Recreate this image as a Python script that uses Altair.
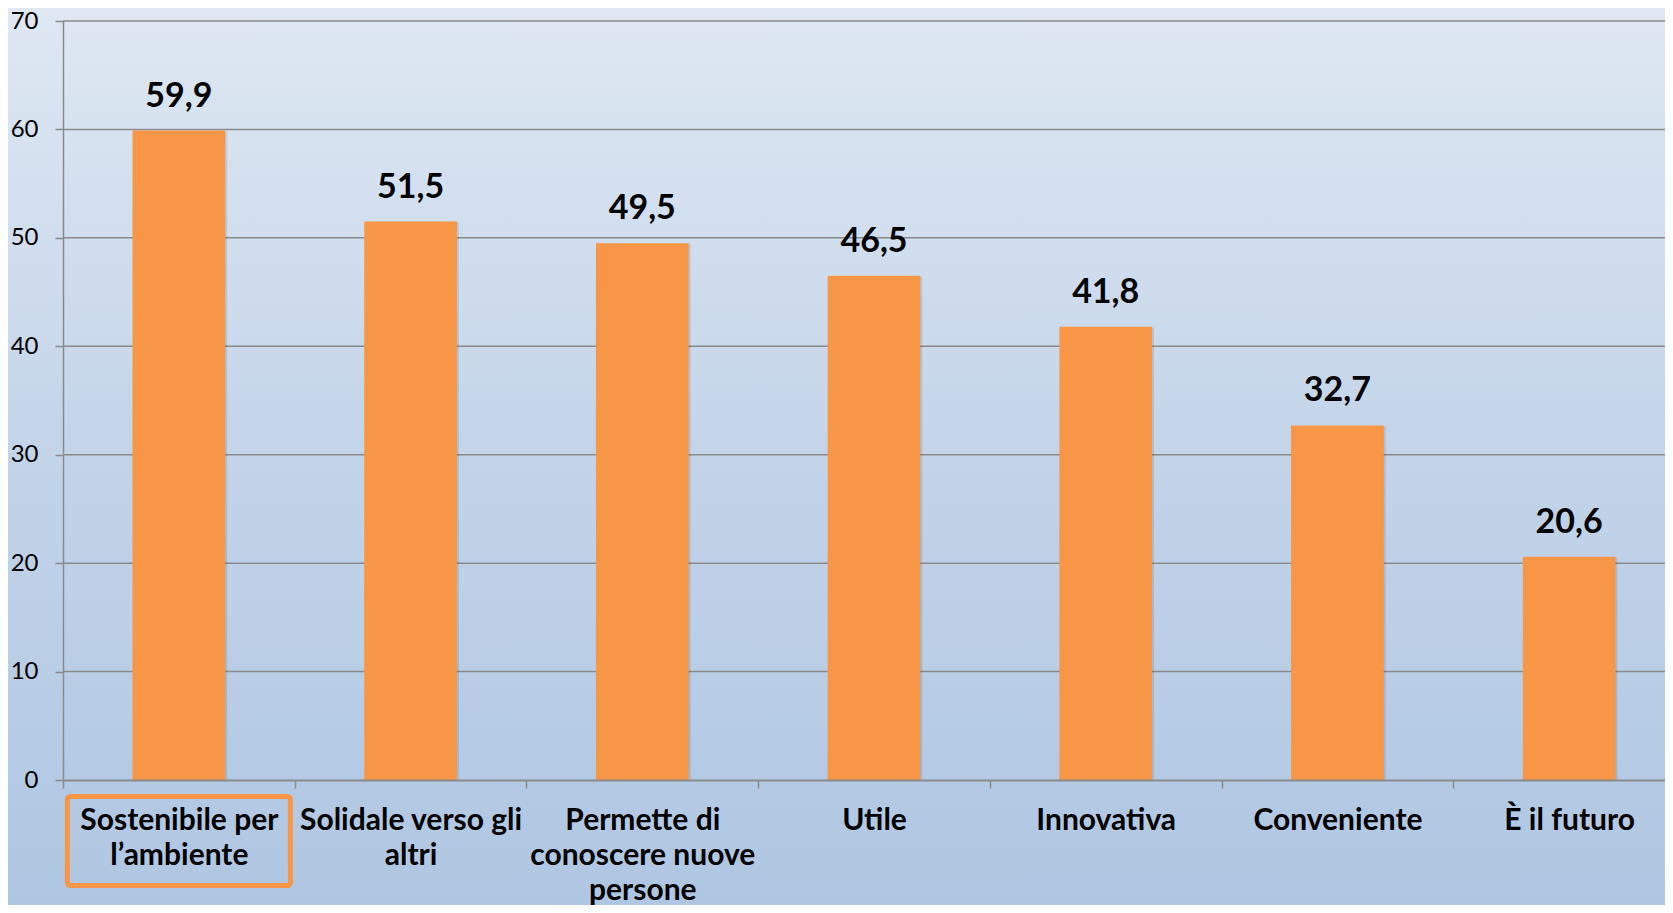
import altair as alt
import pandas as pd

categories = [
    "Sostenibile per\nl’ambiente",
    "Solidale verso gli\naltri",
    "Permette di\nconoscere nuove\npersone",
    "Utile",
    "Innovativa",
    "Conveniente",
    "È il futuro",
]
values = [59.9, 51.5, 49.5, 46.5, 41.8, 32.7, 20.6]
y_ticks = [0, 10, 20, 30, 40, 50, 60, 70]
grid_values = [10, 20, 30, 40, 50, 60, 70]
highlighted = ["Sostenibile per\nl’ambiente"]

W, H = 1602, 759
X_RANGE_END = 1622
PAD = {"left": 55, "top": 13, "right": 0, "bottom": 125}
ORANGE = "#f79646"
GRID = "#8a8a8a"
FONT = "Lato"

df = pd.DataFrame({"cat": categories, "value": values})
grid_df = pd.DataFrame({"g": grid_values})

x_enc = alt.X(
    "cat:N",
    sort=categories,
    title=None,
    scale=alt.Scale(paddingInner=0, paddingOuter=0, range=[0, X_RANGE_END]),
    axis=alt.Axis(
        labelAngle=0,
        labelExpr="split(datum.label, '\\n')",
        labelFont=FONT,
        labelFontWeight="bold",
        labelFontSize=30,
        labelLineHeight=35,
        labelColor="#000000",
        labelPadding=17,
        labelLimit=0,
        tickBand="extent",
        tickSize=8,
        tickColor=GRID,
        tickWidth=1.5,
        domainColor=GRID,
        domainWidth=2,
        grid=False,
        zindex=1,
    ),
)
y_scale = alt.Scale(domain=[0, 70], nice=False)
y_axis = alt.Axis(
    values=y_ticks,
    grid=False,
    labelFont=FONT,
    labelFontSize=24,
    labelColor="#000000",
    labelPadding=17,
    tickSize=8,
    tickColor=GRID,
    tickWidth=1.5,
    domainColor=GRID,
    domainWidth=1.5,
    zindex=1,
)
y_enc = alt.Y("value:Q", scale=y_scale, title=None, axis=y_axis)

bg = alt.Chart(alt.Data(values=[{"a": 1}])).mark_rect(
    color=alt.Gradient(
        gradient="linear",
        stops=[
            alt.GradientStop(color="#dfe8f3", offset=0),
            alt.GradientStop(color="#c3d4e9", offset=0.5),
            alt.GradientStop(color="#afc6e2", offset=1),
        ],
        x1=0, x2=0, y1=0, y2=1,
    )
).encode(
    x=alt.value(-PAD["left"]),
    x2=alt.value(W + 20),
    y=alt.value(-PAD["top"]),
    y2=alt.value(H + PAD["bottom"]),
)

grid = alt.Chart(grid_df).mark_rule(color=GRID, strokeWidth=1.5).encode(
    y=alt.Y("g:Q", scale=y_scale, title=None, axis=y_axis),
    x=alt.value(0),
    x2=alt.value(W + 20),
)

base = alt.Chart(df)
bar_w = alt.RelativeBandSize(band=0.4)

shadow = base.mark_bar(color="#000000", opacity=0.10, width=bar_w, xOffset=2, yOffset=1).encode(
    x=x_enc, y=y_enc
)
bars = base.mark_bar(color=ORANGE, width=bar_w).encode(x=x_enc, y=y_enc)

text = base.transform_calculate(
    lab="replace(format(datum.value, '.1f'), '.', ',')"
).mark_text(
    font=FONT, fontWeight="bold", fontSize=34, color="#000000",
    baseline="alphabetic", dy=-24,
).encode(x=x_enc, y=y_enc, text="lab:N")

box = base.transform_filter(
    alt.FieldOneOfPredicate(field="cat", oneOf=highlighted)
).mark_bar(
    filled=False, stroke=ORANGE, strokeWidth=5, cornerRadius=3, width=223,
).encode(
    x=x_enc,
    y=alt.value(H + 14 + 2.5),
    y2=alt.value(H + 108 - 2.5),
)

chart = alt.layer(bg, grid, shadow, bars, text, box).properties(
    width=W, height=H,
    autosize=alt.AutoSizeParams(type="none"),
    padding=PAD,
).configure_view(stroke=None).configure(background="#c9d8ec")

chart.save("out.html", embed_options={"renderer": "svg", "actions": False})
